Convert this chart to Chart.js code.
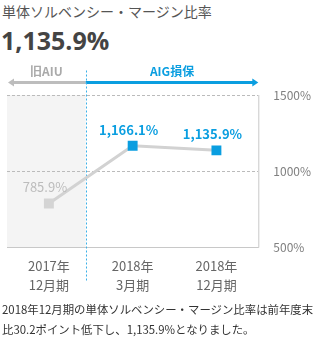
<!DOCTYPE html>
<html lang="ja">
<head>
<meta charset="UTF-8">
<title>単体ソルベンシー・マージン比率</title>
<script src="https://cdn.jsdelivr.net/npm/chart.js"></script>
<style>
    body { margin: 0; background: #fff; font-family: "Noto Sans CJK JP", sans-serif; }
    .wrap { position: relative; width: 330px; height: 337px; overflow: hidden; }
    .title { position: absolute; left: 2px; top: 1px; font-size: 14px; color: #555; white-space: nowrap; }
    .big { position: absolute; left: 1px; top: 23px; font-size: 25px; font-weight: bold; color: #444; font-family: "Open Sans", "Noto Sans CJK JP", sans-serif; }
    #chart { position: absolute; left: 0; top: 0; }
    .note { position: absolute; left: 2px; top: 299px; font-size: 11.4px; line-height: 20px; color: #333; white-space: nowrap; }
</style>
</head>
<body>
<div class="wrap">
    <div class="title">単体ソルベンシー・マージン比率</div>
    <div class="big">1,135.9%</div>
    <canvas id="chart" width="330" height="304"></canvas>
    <div class="note">2018年12月期の単体ソルベンシー・マージン比率は前年度末<br>比30.2ポイント低下し、1,135.9%となりました。</div>
</div>
<script>
    // データ
    const periods = [['2017年', '12月期'], ['2018年', '3月期'], ['2018年', '12月期']];
    const ratio = [785.9, 1166.1, 1135.9];
    const ratioLabels = ['785.9%', '1,166.1%', '1,135.9%'];
    const yTicks = [500, 1000, 1500];
    const eraNames = ['旧AIU', 'AIG損保'];

    const BLUE = '#0a9ee0';
    const GRAY = '#d2d2d2';
    const SPLIT = 0.44; // 旧AIU / AIG損保 の境目 (カテゴリ位置)

    const decor = {
        id: 'decor',
        beforeDraw(chart) {
            const { ctx, chartArea: a, scales: { x } } = chart;
            const sx = x.getPixelForValue(SPLIT);
            ctx.save();
            ctx.fillStyle = '#f4f4f4';
            ctx.fillRect(a.left, a.top, sx - a.left, a.bottom - a.top);
            ctx.restore();
        },
        beforeDatasetsDraw(chart) {
            const { ctx, chartArea: a, scales: { x } } = chart;
            const sx = x.getPixelForValue(SPLIT);
            ctx.save();
            // 枠線 (下・右)
            ctx.strokeStyle = '#c8c8c8';
            ctx.lineWidth = 1;
            ctx.beginPath();
            ctx.moveTo(a.left, a.bottom + 0.5);
            ctx.lineTo(a.right + 0.5, a.bottom + 0.5);
            ctx.lineTo(a.right + 0.5, a.top);
            ctx.stroke();

            // 矢印
            const ay = a.top - 12.5;
            ctx.lineWidth = 3;
            ctx.strokeStyle = '#bdbdbd';
            ctx.fillStyle = '#bdbdbd';
            ctx.beginPath();
            ctx.moveTo(a.left + 5, ay);
            ctx.lineTo(sx, ay);
            ctx.stroke();
            ctx.beginPath();
            ctx.moveTo(a.left + 1, ay);
            ctx.lineTo(a.left + 7, ay - 4);
            ctx.lineTo(a.left + 7, ay + 4);
            ctx.closePath();
            ctx.fill();

            ctx.strokeStyle = BLUE;
            ctx.fillStyle = BLUE;
            ctx.beginPath();
            ctx.moveTo(sx, ay);
            ctx.lineTo(a.right - 4, ay);
            ctx.stroke();
            ctx.beginPath();
            ctx.moveTo(a.right, ay);
            ctx.lineTo(a.right - 6, ay - 4);
            ctx.lineTo(a.right - 6, ay + 4);
            ctx.closePath();
            ctx.fill();

            // ラベル
            ctx.font = 'bold 12px "Noto Sans CJK JP"';
            ctx.textAlign = 'center';
            ctx.textBaseline = 'middle';
            ctx.fillStyle = '#aaa';
            ctx.fillText(eraNames[0], (a.left + sx) / 2, ay - 11);
            ctx.fillStyle = BLUE;
            ctx.fillText(eraNames[1], (sx + a.right) / 2, ay - 11);

            // 境界の点線
            ctx.strokeStyle = '#3ab0e8';
            ctx.lineWidth = 1;
            ctx.setLineDash([2, 2]);
            ctx.beginPath();
            ctx.moveTo(Math.round(sx) + 0.5, ay - 12);
            ctx.lineTo(Math.round(sx) + 0.5, a.bottom + 34);
            ctx.stroke();
            ctx.restore();
        },
        afterDatasetsDraw(chart) {
            const { ctx } = chart;
            const meta = chart.getDatasetMeta(0);
            ctx.save();
            ctx.textAlign = 'center';
            ctx.textBaseline = 'middle';
            meta.data.forEach((pt, i) => {
                if (i === 0) {
                    ctx.font = '13px "Noto Sans CJK JP"';
                    ctx.fillStyle = '#bcbcbc';
                } else {
                    ctx.font = 'bold 13px "Noto Sans CJK JP"';
                    ctx.fillStyle = BLUE;
                }
                ctx.fillText(ratioLabels[i], pt.x - 4, pt.y - 16);
            });
            ctx.restore();
        }
    };

    new Chart(document.getElementById('chart'), {
        type: 'line',
        data: {
            labels: periods,
            datasets: [{
                data: ratio,
                borderColor: GRAY,
                borderWidth: 3,
                tension: 0,
                pointStyle: 'rect',
                pointRadius: 7,
                pointHoverRadius: 7,
                pointBorderWidth: 0,
                pointBackgroundColor: ['#d4d4d4', BLUE, BLUE]
            }]
        },
        options: {
            responsive: false,
            animation: false,
            layout: { padding: { top: 95, left: 0, right: 4, bottom: 0 } },
            plugins: { legend: { display: false }, tooltip: { enabled: false } },
            scales: {
                x: {
                    offset: true,
                    grid: { display: false, drawTicks: false },
                    border: { display: false },
                    ticks: { color: '#666', font: { size: 13, family: '"Noto Sans CJK JP"', lineHeight: 1.5 }, padding: 9 }
                },
                y: {
                    position: 'right',
                    min: 500,
                    max: 1500,
                    afterBuildTicks: (s) => { s.ticks = yTicks.map(v => ({ value: v })); },
                    grid: {
                        drawTicks: false,
                        color: (c) => c.tick && c.tick.value === 500 ? 'transparent' : '#bbb'
                    },
                    border: { display: false, dash: [3, 2] },
                    ticks: {
                        color: '#808080',
                        padding: 15,
                        font: { size: 12, family: '"Noto Sans CJK JP"' },
                        callback: (v) => v + '%'
                    }
                }
            }
        },
        plugins: [decor]
    });
</script>
</body>
</html>
